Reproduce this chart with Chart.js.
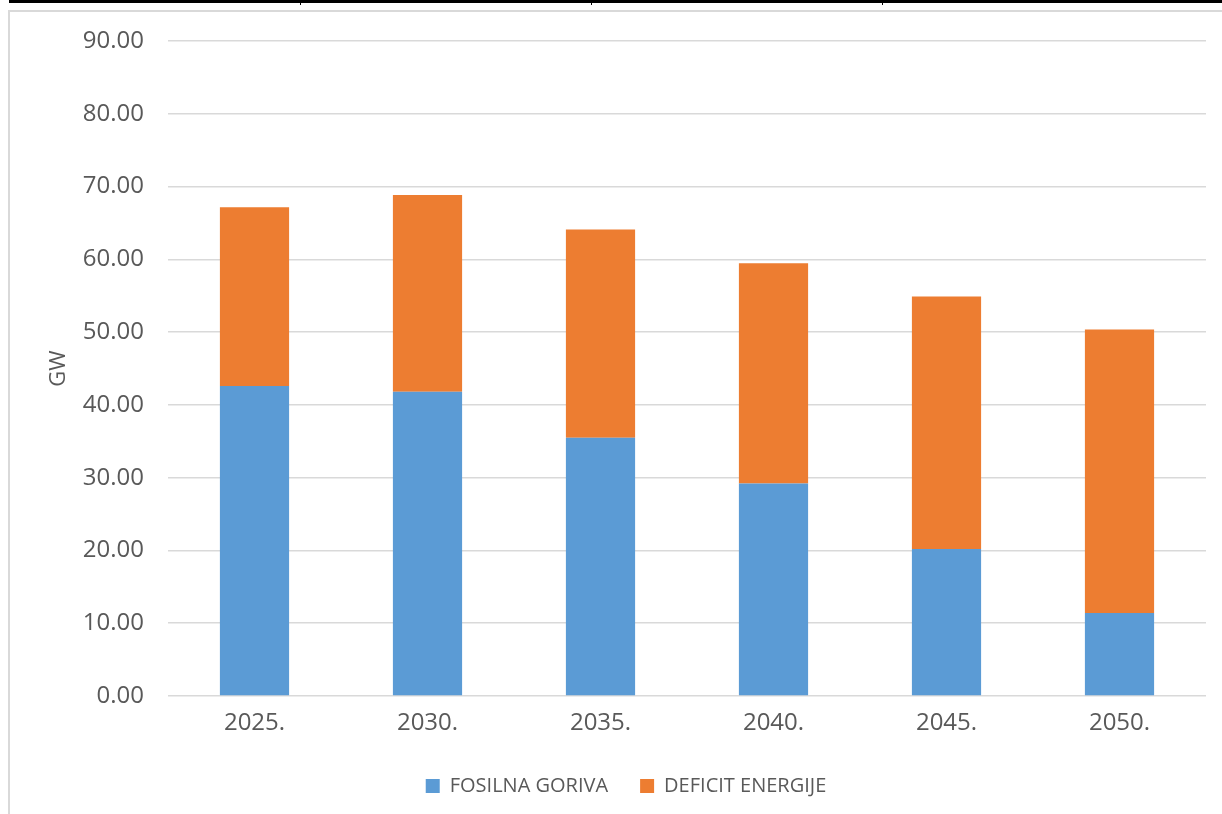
<!DOCTYPE html>
<html>
<head>
<meta charset="utf-8">
<script src="https://cdn.jsdelivr.net/npm/chart.js@4/dist/chart.umd.min.js"></script>
<style>
  html, body { margin: 0; padding: 0; background: #fff; overflow: hidden; }
  #wrap { position: relative; width: 1222px; height: 850px; }
  #c { position: absolute; left: 0; top: 0; }
  .blk { position: absolute; background: #000; }
  .frame { position: absolute; background: #d9d9d9; }
</style>
</head>
<body>
<div id="wrap">
  <canvas id="c" width="1222" height="850" style="width:1222px;height:850px"></canvas>
  <div class="blk" style="left:9px;top:0;width:1213px;height:3px"></div>
  <div class="blk" style="left:300px;top:0;width:1px;height:5px"></div>
  <div class="blk" style="left:591px;top:0;width:1px;height:5px"></div>
  <div class="blk" style="left:882px;top:0;width:1px;height:5px"></div>
  <div class="frame" style="left:8px;top:10px;width:1214px;height:2px"></div>
  <div class="frame" style="left:8px;top:10px;width:2px;height:840px"></div>
</div>
<script>
const categories = ['2025.', '2030.', '2035.', '2040.', '2045.', '2050.'];
const fosilnaGoriva = [42.6, 41.8, 35.5, 29.2, 20.2, 11.4];
const deficitEnergije = [24.55, 27.05, 28.6, 30.25, 34.7, 38.95];
const yTicks = [0, 10, 20, 30, 40, 50, 60, 70, 80, 90];

const textColor = '#595959';
const fontFam = "'Open Sans', 'Liberation Sans', sans-serif";

new Chart(document.getElementById('c'), {
  type: 'bar',
  data: {
    labels: categories,
    datasets: [
      { label: 'FOSILNA GORIVA', data: fosilnaGoriva, backgroundColor: '#5b9bd5', borderWidth: 0,
        categoryPercentage: 1.0, barPercentage: 0.4 },
      { label: 'DEFICIT ENERGIJE', data: deficitEnergije, backgroundColor: '#ed7d31', borderWidth: 0,
        categoryPercentage: 1.0, barPercentage: 0.4 }
    ]
  },
  options: {
    responsive: false,
    animation: false,
    layout: { padding: { left: 46, right: 16, top: 41, bottom: 44 } },
    plugins: {
      tooltip: { enabled: false },
      legend: {
        position: 'bottom',
        labels: {
          boxWidth: 14, boxHeight: 14, padding: 32,
          color: textColor,
          font: { family: fontFam, size: 20 }
        }
      }
    },
    scales: {
      x: {
        stacked: true,
        grid: { display: false },
        border: { display: false },
        ticks: { color: textColor, font: { family: fontFam, size: 24 }, padding: 5, maxRotation: 0 },
        afterFit: (s) => { s.height = 48; }
      },
      y: {
        stacked: true,
        min: 0, max: 90,
        afterBuildTicks: (s) => { s.ticks = yTicks.map(v => ({ value: v })); },
        grid: { color: '#d9d9d9', lineWidth: 1.5, drawTicks: false },
        border: { display: false },
        ticks: { color: textColor, font: { family: fontFam, size: 24 }, padding: 24,
                 callback: (v) => Number(v).toFixed(2) },
        title: { display: true, text: 'GW', color: textColor, font: { family: fontFam, size: 22 },
                 padding: { top: 0, bottom: 0 } },
        afterFit: (s) => { s.width = 122; }
      }
    }
  }
});
</script>
</body>
</html>
